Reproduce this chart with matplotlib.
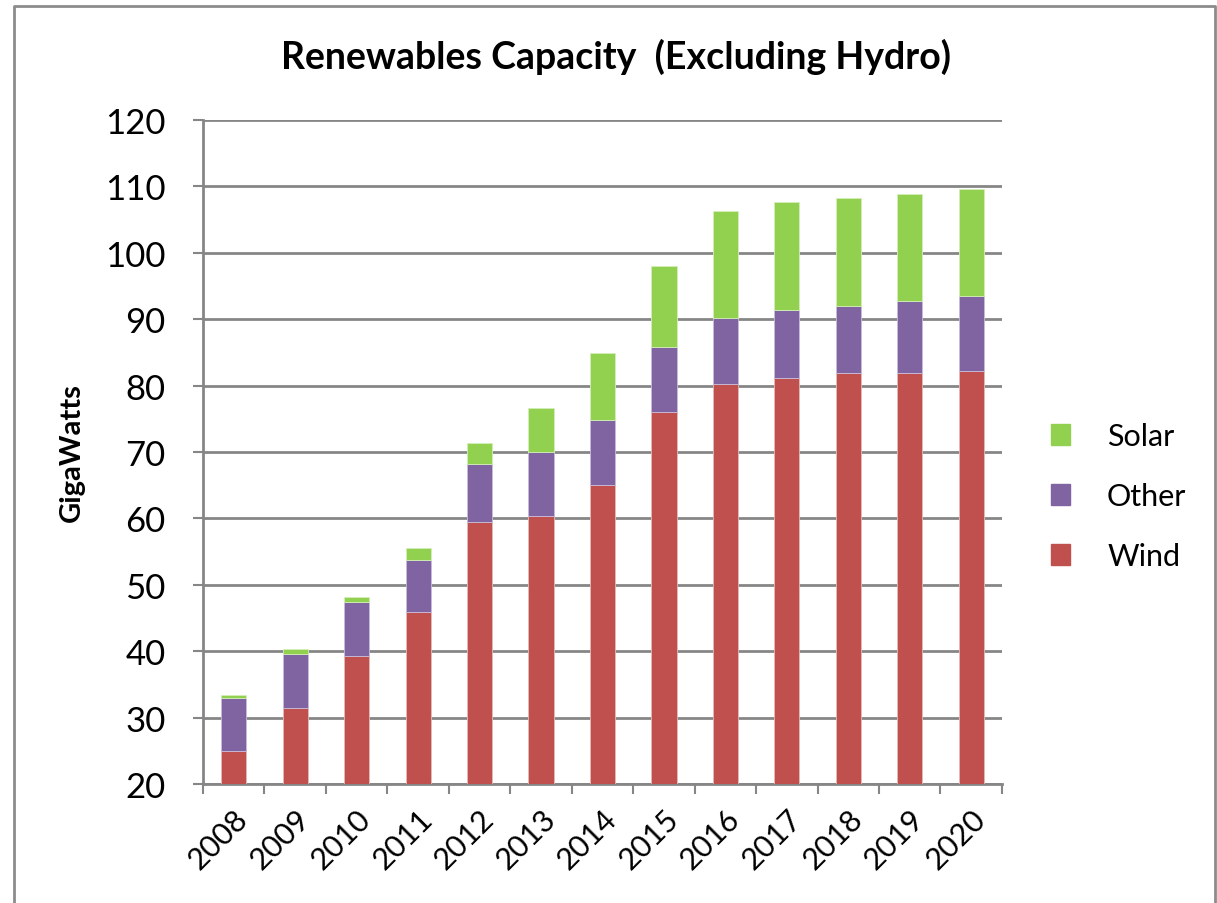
import numpy as np
import matplotlib.pyplot as plt
from matplotlib.patches import Rectangle

years = ['2008', '2009', '2010', '2011', '2012', '2013', '2014',
         '2015', '2016', '2017', '2018', '2019', '2020']
wind = [25.0, 31.4, 39.3, 45.9, 59.5, 60.4, 65.0, 76.1, 80.2, 81.1, 81.9, 81.9, 82.2]
other = [8.0, 8.2, 8.1, 7.8, 8.7, 9.6, 9.8, 9.7, 10.0, 10.3, 10.1, 10.8, 11.3]
solar = [0.4, 0.7, 0.8, 1.8, 3.1, 6.6, 10.1, 12.2, 16.1, 16.3, 16.3, 16.2, 16.1]

colors = {'Wind': '#C0504D', 'Other': '#8064A2', 'Solar': '#92D050'}
grid_col = '#868686'

plt.rcParams['font.family'] = ['Lato', 'DejaVu Sans']

fig = plt.figure(figsize=(12.17, 9.04), dpi=100)
ax = fig.add_axes([0.1668, 0.1316, 0.6565, 0.7345])

x = np.arange(len(years))
base = 20
w = np.array(wind)
o = np.array(other)
s = np.array(solar)
bw = 0.41
ax.bar(x, w - base, bw, bottom=base, color=colors['Wind'], edgecolor='#E6B9B8', linewidth=0.6, zorder=3)
ax.bar(x, o, bw, bottom=w, color=colors['Other'], edgecolor='#C9BCDA', linewidth=0.6, zorder=3)
ax.bar(x, s, bw, bottom=w + o, color=colors['Solar'], edgecolor='#D4EEB9', linewidth=0.6, zorder=3)

ax.set_xlim(-0.5, len(years) - 0.5)
ax.set_ylim(20, 120)
ax.set_yticks(np.arange(20, 121, 10))
ax.tick_params(axis='y', labelsize=25, length=7, width=1.5, color=grid_col, direction='out', pad=20)
ax.yaxis.grid(True, color=grid_col, linewidth=2, zorder=0)
ax.set_axisbelow(True)

# category ticks sit between the bars, labels centred under them
ax.set_xticks(np.arange(-0.5, len(years), 1.0))
ax.set_xticklabels([])
ax.set_xticks(x, minor=True)
ax.set_xticklabels(years, minor=True, rotation=45, ha='right', rotation_mode='anchor', fontsize=22)
ax.tick_params(axis='x', which='major', length=7, width=1.5, color=grid_col, direction='out')
ax.tick_params(axis='x', which='minor', length=0, pad=14)

for side in ('top', 'right'):
    ax.spines[side].set_visible(False)
for side in ('left', 'bottom'):
    ax.spines[side].set_color(grid_col)
    ax.spines[side].set_linewidth(2)

fig.text(72 / 1217, 1 - 453 / 904, 'GigaWatts', rotation=90, ha='center', va='center',
         fontsize=21, fontweight='bold')
fig.text(0.506, 0.937, 'Renewables Capacity  (Excluding Hydro)', ha='center', va='center',
         fontsize=27, fontweight='bold')

handles = [Rectangle((0, 0), 1, 1, color=colors[k]) for k in ('Solar', 'Other', 'Wind')]
fig.legend(handles, ['Solar', 'Other', 'Wind'], loc='center left', bbox_to_anchor=(0.8406, 0.45),
           frameon=False, fontsize=22, handlelength=0.65, handleheight=0.65,
           handletextpad=1.2, labelspacing=1.05)

# chart-area frame, open at the bottom
x0, x1 = 14 / 1217, 1215 / 1217
y_top = 1 - 7 / 904
fig.add_artist(plt.Line2D([x0, x0, x1, x1], [0, y_top, y_top, 0], transform=fig.transFigure,
                          color='#8C8C8C', linewidth=2))

fig.savefig('out.png', dpi=100)
